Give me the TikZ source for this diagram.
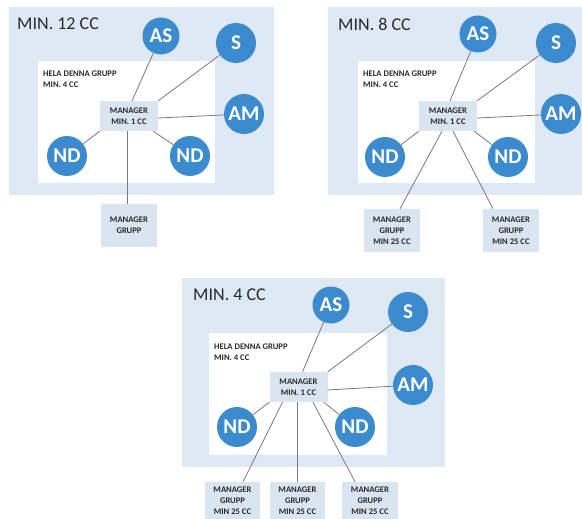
\documentclass[tikz,border=0pt]{standalone}
\usepackage{fontspec}
\setmainfont{Carlito}
\definecolor{bgblue}{HTML}{DEE9F5}
\definecolor{boxblue}{HTML}{DAE5F1}
\definecolor{cblue}{HTML}{3B8BCE}
\definecolor{linegray}{HTML}{7A7A7A}
\definecolor{txt}{HTML}{2A2A2A}
\begin{document}
\begin{tikzpicture}[x=1pt,y=-1pt,
  outerbox/.style={fill=bgblue, draw=none, anchor=north west, inner sep=0pt},
  innerbox/.style={fill=white, draw=none, anchor=north west, inner sep=0pt},
  circ/.style={circle, fill=cblue, draw=none, text=white, font=\fontsize{21}{21}\selectfont\bfseries, inner sep=0pt, minimum size=40pt},
  smallcirc/.style={circ, minimum size=37pt},
  mgr/.style={fill=boxblue, draw=none, text=txt, font=\fontsize{8.6}{11}\selectfont\bfseries, align=center, inner sep=0pt, minimum width=58pt, minimum height=30pt},
  grp/.style={mgr, minimum width=56pt, minimum height=43pt},
  title/.style={anchor=west, text=txt, font=\fontsize{18}{18}\selectfont, inner sep=0pt},
  hela/.style={anchor=north west, align=left, text=txt, font=\fontsize{8.6}{11}\selectfont\bfseries, inner sep=0pt},
  link/.style={draw=linegray, line width=0.8pt}]
\useasboundingbox[fill=white] (0,0) rectangle (582,519);

% ---------- Panel 1 ----------
\node[outerbox, minimum width=265pt, minimum height=188pt] (o1) at (9,7) {};
\node[innerbox, minimum width=177pt, minimum height=122pt] (i1) at (38,61) {};
\node[title] (t1) at (17,24) {MIN. 12 CC};
\node[hela] (h1) at (43,70.5) {HELA DENNA GRUPP\\MIN. 4 CC};
\node[mgr] (m1) at (129,116) {MANAGER\\MIN. 1 CC};
\node[smallcirc] (as1) at (161,36) {AS};
\node[circ] (s1) at (236,43) {S};
\node[circ] (am1) at (244,114) {AM};
\node[circ] (nda1) at (67,156) {ND};
\node[circ] (ndb1) at (190,156) {ND};
\node[grp] (g1) at (129,225.5) {MANAGER\\GRUPP};
\draw[link] ([xshift=3pt]m1.north) -- (as1);
\draw[link] (m1.north east) -- (s1);
\draw[link] ([yshift=-2pt]m1.east) -- (am1);
\draw[link] (m1.south west) -- (nda1);
\draw[link] ([xshift=-5pt]m1.south east) -- (ndb1);
\draw[link] ([xshift=-2pt]m1.south) -- ([xshift=-2pt]g1.north);

% ---------- Panel 2 ----------
\node[outerbox, minimum width=254pt, minimum height=188pt] (o2) at (328,7) {};
\node[innerbox, minimum width=177pt, minimum height=122pt] (i2) at (358,61) {};
\node[title] (t2) at (338,24) {MIN. 8 CC};
\node[hela] (h2) at (363,70.5) {HELA DENNA GRUPP\\MIN. 4 CC};
\node[mgr] (m2) at (448,116) {MANAGER\\MIN. 1 CC};
\node[smallcirc] (as2) at (478,34) {AS};
\node[circ] (s2) at (556,43) {S};
\node[circ] (am2) at (561,114) {AM};
\node[circ] (nda2) at (385,157) {ND};
\node[circ] (ndb2) at (508,157) {ND};
\node[grp] (ga2) at (392,230.5) {MANAGER\\GRUPP\\MIN 25 CC};
\node[grp] (gb2) at (511,230.5) {MANAGER\\GRUPP\\MIN 25 CC};
\draw[link] ([xshift=2pt]m2.north) -- (as2);
\draw[link] (m2.north east) -- (s2);
\draw[link] ([yshift=-2pt]m2.east) -- (am2);
\draw[link] (m2.south west) -- (nda2);
\draw[link] ([xshift=-3pt]m2.south east) -- (ndb2);
\draw[link] ([xshift=-6pt]m2.south) -- ([xshift=8pt]ga2.north);
\draw[link] ([xshift=5pt]m2.south) -- ([xshift=-18pt]gb2.north);

% ---------- Panel 3 ----------
\node[outerbox, minimum width=263pt, minimum height=189pt] (o3) at (182,278) {};
\node[innerbox, minimum width=178pt, minimum height=122pt] (i3) at (209,333) {};
\node[title] (t3) at (193,295) {MIN. 4 CC};
\node[hela] (h3) at (214,343.5) {HELA DENNA GRUPP\\MIN. 4 CC};
\node[mgr] (m3) at (298.5,387) {MANAGER\\MIN. 1 CC};
\node[smallcirc] (as3) at (331,305) {AS};
\node[circ] (s3) at (408,312) {S};
\node[circ] (am3) at (413,385) {AM};
\node[circ] (nda3) at (237,427) {ND};
\node[circ] (ndb3) at (355,427) {ND};
\node[grp, minimum width=55pt, minimum height=37pt] (ga3) at (232.5,500.5) {MANAGER\\GRUPP\\MIN 25 CC};
\node[grp, minimum width=55pt, minimum height=37pt] (gb3) at (297.5,500.5) {MANAGER\\GRUPP\\MIN 25 CC};
\node[grp, minimum width=56pt, minimum height=37pt] (gc3) at (370,500.5) {MANAGER\\GRUPP\\MIN 25 CC};
\draw[link] ([xshift=4pt]m3.north) -- (as3);
\draw[link] (m3.north east) -- (s3);
\draw[link] ([yshift=-3pt]m3.east) -- (am3);
\draw[link] (m3.south west) -- (nda3);
\draw[link] ([xshift=-4pt]m3.south east) -- (ndb3);
\draw[link] ([xshift=-16pt]m3.south) -- ([xshift=10.5pt]ga3.north);
\draw[link] ([xshift=-1.5pt]m3.south) -- ([xshift=-0.5pt]gb3.north);
\draw[link] ([xshift=14.5pt]m3.south) -- ([xshift=-15pt]gc3.north);
\end{tikzpicture}
\end{document}
